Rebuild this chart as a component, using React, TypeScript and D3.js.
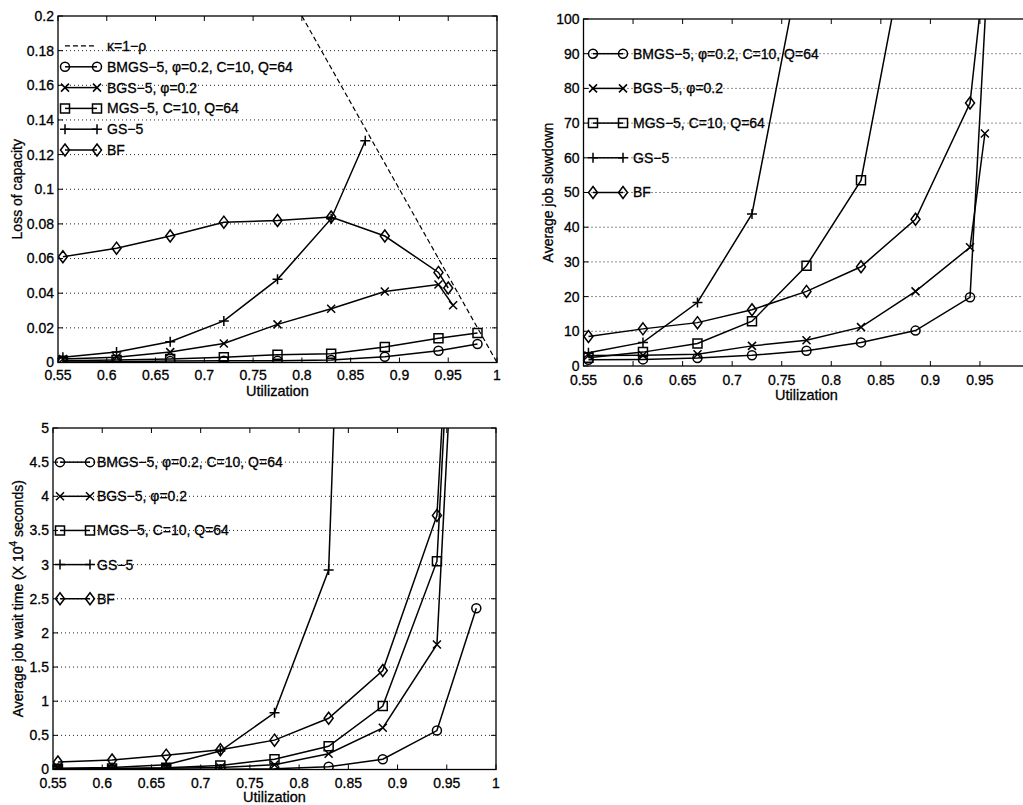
import React from 'react';
import * as d3 from 'd3';

// utilization points (x) per scheme
const utilBase = [0.555, 0.61, 0.665, 0.72, 0.775, 0.83, 0.885, 0.94];
const utilBMGS = [...utilBase, 0.98];
const utilBGS = [...utilBase, 0.955];
const utilMGS = [...utilBase, 0.98];
const utilGS = [0.555, 0.61, 0.665, 0.72, 0.775, 0.83, 0.865];
const utilBF = [...utilBase, 0.95];

// loss of capacity
const lossBMGS = [0.0003, 0.0005, 0.0008, 0.001, 0.001, 0.0015, 0.0033, 0.0068, 0.0107];
const lossBGS = [0.002, 0.003, 0.006, 0.011, 0.022, 0.031, 0.041, 0.045, 0.033];
const lossMGS = [0.001, 0.0015, 0.002, 0.003, 0.0045, 0.005, 0.009, 0.014, 0.017];
const lossGS = [0.003, 0.006, 0.012, 0.024, 0.048, 0.083, 0.128];
const lossBF = [0.061, 0.066, 0.073, 0.081, 0.082, 0.084, 0.073, 0.052, 0.043];
const kappaUtil = [0.8, 1.0];
const kappaLoss = [0.2, 0.0];

// average job slowdown
const slowBMGS = [1.8, 1.9, 2.3, 3.1, 4.4, 6.8, 10.2, 19.8, 230];
const slowBGS = [3.0, 3.1, 3.4, 5.8, 7.4, 11.2, 21.5, 34.2, 67];
const slowMGS = [2.4, 4.0, 6.5, 12.9, 28.9, 53.5, 136, 260, 700];
const slowGS = [3.8, 6.8, 18.3, 43.8, 125, 260, 420];
const slowBF = [8.5, 10.7, 12.5, 16.2, 21.5, 28.6, 42.3, 75.8, 102];

// average job wait time (x 10^4 s)
const waitBMGS = [0.0, 0.0, 0.0, 0.005, 0.01, 0.04, 0.15, 0.57, 2.36];
const waitBGS = [0.005, 0.01, 0.02, 0.03, 0.07, 0.23, 0.61, 1.83, 6.0];
const waitMGS = [0.01, 0.015, 0.025, 0.06, 0.15, 0.34, 0.93, 3.05, 14];
const waitGS = [0.02, 0.03, 0.07, 0.27, 0.83, 2.92, 17];
const waitBF = [0.11, 0.14, 0.21, 0.29, 0.43, 0.75, 1.45, 3.72, 6.3];

const seriesNames = ['BMGS\u22125, \u03c6=0.2, C=10, Q=64', 'BGS\u22125, \u03c6=0.2', 'MGS\u22125, C=10, Q=64', 'GS\u22125', 'BF'];
const markerKinds = ['circle', 'cross', 'square', 'plus', 'diamond'];
const utilSets = [utilBMGS, utilBGS, utilMGS, utilGS, utilBF];

const xTickVals = [0.55, 0.6, 0.65, 0.7, 0.75, 0.8, 0.85, 0.9, 0.95, 1];
const lossTickVals = [0, 0.02, 0.04, 0.06, 0.08, 0.1, 0.12, 0.14, 0.16, 0.18, 0.2];
const slowTickVals = [0, 10, 20, 30, 40, 50, 60, 70, 80, 90, 100];
const waitTickVals = [0, 0.5, 1, 1.5, 2, 2.5, 3, 3.5, 4, 4.5, 5];

const FONT = '"Liberation Sans", Arial, Helvetica, sans-serif';
const W = 1023;
const LW = 1.5;

function markerPath(kind: string, x: number, y: number) {
  const p = d3.path();
  if (kind === 'circle') {
    p.moveTo(x + 4.5, y);
    p.arc(x, y, 4.5, 0, Math.PI * 2);
  } else if (kind === 'cross') {
    p.moveTo(x - 4, y - 4); p.lineTo(x + 4, y + 4);
    p.moveTo(x - 4, y + 4); p.lineTo(x + 4, y - 4);
  } else if (kind === 'square') {
    p.rect(x - 4.5, y - 4.5, 9, 9);
  } else if (kind === 'plus') {
    p.moveTo(x - 5, y); p.lineTo(x + 5, y);
    p.moveTo(x, y - 5); p.lineTo(x, y + 5);
  } else {
    p.moveTo(x, y - 6); p.lineTo(x + 4.5, y); p.lineTo(x, y + 6); p.lineTo(x - 4.5, y); p.closePath();
  }
  return p.toString();
}

interface PanelProps {
  id: string;
  left: number; right: number; top: number; bottom: number;
  yMax: number;
  yTicks: number[];
  values: number[][];
  legendRows: number[];
  legendX: [number, number, number];
  yLabel: React.ReactNode;
  yLabelX: number;
  tickGap: number;
  xLabelY: number;
  kappa?: boolean;
}

const txt = { fill: '#000', stroke: '#000', strokeWidth: 0.3 };

const Panel: React.FC<PanelProps> = (pr) => {
  const x = d3.scaleLinear().domain([0.55, 1]).range([pr.left, pr.right]);
  const y = d3.scaleLinear().domain([0, pr.yMax]).range([pr.bottom, pr.top]);
  const line = d3.line<[number, number]>().x(d => x(d[0])).y(d => y(d[1]));
  const clip = `clip-${pr.id}`;
  const [lx0, lx1, ltx] = pr.legendX;
  const midY = (pr.top + pr.bottom) / 2;
  const midX = (pr.left + pr.right) / 2;

  return (
    <g fontFamily={FONT}>
      <defs>
        <clipPath id={clip}>
          <rect x={pr.left} y={pr.top} width={pr.right - pr.left} height={pr.bottom - pr.top} />
        </clipPath>
      </defs>
      {/* horizontal dotted grid */}
      {pr.yTicks.slice(1, -1).map(t => (
        <line key={t} x1={pr.left} x2={pr.right} y1={y(t)} y2={y(t)} stroke="#222" strokeWidth={1} strokeDasharray="1,3" />
      ))}
      {/* data */}
      <g clipPath={`url(#${clip})`}>
        {pr.kappa && (
          <path d={line(kappaUtil.map((u, i) => [u, kappaLoss[i]]) as any) || ''} fill="none" stroke="#000" strokeWidth={1.2} strokeDasharray="5,3" />
        )}
        {pr.values.map((vals, s) => {
          const pts = utilSets[s].map((u, i) => [u, vals[i]] as [number, number]);
          return (
            <g key={s}>
              <path d={line(pts) || ''} fill="none" stroke="#000" strokeWidth={LW} />
              {pts.map((p, i) => (
                <path key={i} d={markerPath(markerKinds[s], x(p[0]), y(p[1]))} fill="none" stroke="#000" strokeWidth={LW} />
              ))}
            </g>
          );
        })}
      </g>
      {/* box */}
      <rect x={pr.left} y={pr.top} width={pr.right - pr.left} height={pr.bottom - pr.top} fill="none" stroke="#000" strokeWidth={1.3} />
      {/* ticks */}
      {xTickVals.map(t => (
        <g key={'xt' + t}>
          <line x1={x(t)} x2={x(t)} y1={pr.bottom} y2={pr.bottom - 5} stroke="#000" />
          <line x1={x(t)} x2={x(t)} y1={pr.top} y2={pr.top + 5} stroke="#000" />
          {x(t) < W - 8 && (
            <text x={x(t)} y={pr.bottom + pr.tickGap} textAnchor="middle" fontSize={14} {...txt}>{String(t)}</text>
          )}
        </g>
      ))}
      {pr.yTicks.map(t => (
        <g key={'yt' + t}>
          <line x1={pr.left} x2={pr.left + 5} y1={y(t)} y2={y(t)} stroke="#000" />
          <line x1={pr.right} x2={pr.right - 5} y1={y(t)} y2={y(t)} stroke="#000" />
          <text x={pr.left - 4} y={y(t)} dy="0.35em" textAnchor="end" fontSize={14} {...txt}>{String(t)}</text>
        </g>
      ))}
      {/* axis labels */}
      <text x={midX} y={pr.xLabelY} textAnchor="middle" fontSize={14.5} {...txt}>Utilization</text>
      <text transform={`translate(${pr.yLabelX},${midY}) rotate(-90)`} textAnchor="middle" fontSize={14} {...txt}>{pr.yLabel}</text>
      {/* legend */}
      {pr.kappa && (
        <g>
          <line x1={lx0} x2={lx1} y1={pr.legendRows[0] - 21} y2={pr.legendRows[0] - 21} stroke="#000" strokeWidth={1.2} strokeDasharray="5,3" />
          <text x={ltx} y={pr.legendRows[0] - 21} dy="0.35em" fontSize={14} {...txt}>{'\u03ba=1\u2212\u03c1'}</text>
        </g>
      )}
      {seriesNames.map((name, s) => {
        const ly = pr.legendRows[s];
        return (
          <g key={name}>
            <line x1={lx0} x2={lx1} y1={ly} y2={ly} stroke="#000" strokeWidth={LW} />
            <path d={markerPath(markerKinds[s], lx0, ly)} fill="none" stroke="#000" strokeWidth={LW} />
            <path d={markerPath(markerKinds[s], lx1, ly)} fill="none" stroke="#000" strokeWidth={LW} />
            <text x={ltx} y={ly} dy="0.35em" fontSize={14} {...txt}>{name}</text>
          </g>
        );
      })}
    </g>
  );
};

export default function App() {
  return (
    <svg width={W} height={805} style={{ position: 'absolute', left: 0, top: 0, background: '#fff' }}>
      <Panel
        id="loss" left={58} right={497} top={16} bottom={362.5}
        yMax={0.2} yTicks={lossTickVals}
        values={[lossBMGS, lossBGS, lossMGS, lossGS, lossBF]}
        legendRows={[66.8, 87.6, 108.4, 129.2, 150]}
        legendX={[65, 97, 107]}
        yLabel="Loss of capacity" yLabelX={22}
        tickGap={17} xLabelY={396}
        kappa
      />
      <Panel
        id="slow" left={583.5} right={1029.5} top={19} bottom={366}
        yMax={100} yTicks={slowTickVals}
        values={[slowBMGS, slowBGS, slowMGS, slowGS, slowBF]}
        legendRows={[90, 80, 70, 60, 50].map(v => 366 - (v / 100) * 347)}
        legendX={[593, 623, 633]}
        yLabel="Average job slowdown" yLabelX={553}
        tickGap={19} xLabelY={400}
      />
      <Panel
        id="wait" left={53} right={496} top={428} bottom={769.5}
        yMax={5} yTicks={waitTickVals}
        values={[waitBMGS, waitBGS, waitMGS, waitGS, waitBF]}
        legendRows={[4.5, 4, 3.5, 3, 2.5].map(v => 769.5 - (v / 5) * 341.5)}
        legendX={[60, 90, 97]}
        yLabel={<>Average job wait time (X 10<tspan dy="-6" fontSize={10}>4</tspan><tspan dy="6"> seconds)</tspan></>}
        yLabelX={23}
        tickGap={18.5} xLabelY={802}
      />
    </svg>
  );
}
